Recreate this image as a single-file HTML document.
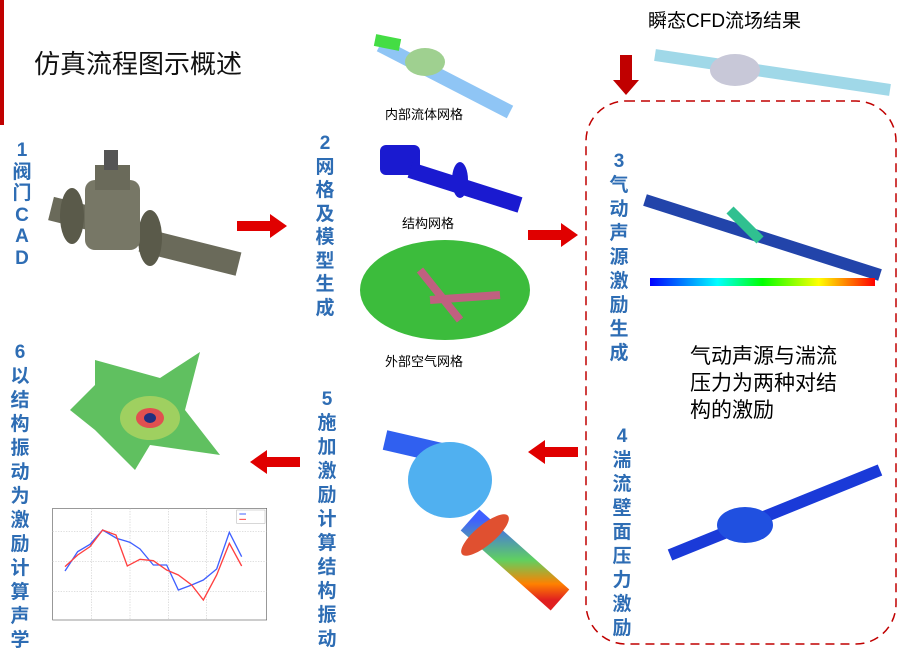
<!DOCTYPE html>
<html><head><meta charset="utf-8"><style>
body{margin:0;width:899px;height:654px;background:#fff;position:relative;overflow:hidden;font-family:"Liberation Sans","Noto Sans CJK SC",sans-serif}
.v{position:absolute;color:#2E6DB4;font-weight:bold;font-size:19px;text-align:center;width:24px}
.v span{display:block}
.t{position:absolute;white-space:nowrap}
svg{position:absolute}
</style></head><body>
<div style="position:absolute;left:0;top:0;width:4px;height:125px;background:#c00000"></div>
<div class="t" style="left:34px;top:44px;font-size:26px;color:#111">仿真流程图示概述</div>
<div class="t" style="left:648px;top:6px;font-size:19px">瞬态CFD流场结果</div>
<div class="t" style="left:385px;top:104px;font-size:13px">内部流体网格</div>
<div class="t" style="left:402px;top:213px;font-size:13px">结构网格</div>
<div class="t" style="left:385px;top:351px;font-size:13px">外部空气网格</div>
<div class="t" style="left:690px;top:343px;font-size:21px;line-height:27px">气动声源与湍流<br>压力为两种对结<br>构的激励</div>

<div class="v" style="left:10px;top:140px;line-height:21.5px"><span>1</span><span>阀</span><span>门</span><span>C</span><span>A</span><span>D</span></div>
<div class="v" style="left:313px;top:132px;line-height:23.5px"><span>2</span><span>网</span><span>格</span><span>及</span><span>模</span><span>型</span><span>生</span><span>成</span></div>
<div class="v" style="left:607px;top:150px;line-height:24px"><span>3</span><span>气</span><span>动</span><span>声</span><span>源</span><span>激</span><span>励</span><span>生</span><span>成</span></div>
<div class="v" style="left:610px;top:425px;line-height:24px"><span>4</span><span>湍</span><span>流</span><span>壁</span><span>面</span><span>压</span><span>力</span><span>激</span><span>励</span></div>
<div class="v" style="left:315px;top:388px;line-height:24px"><span>5</span><span>施</span><span>加</span><span>激</span><span>励</span><span>计</span><span>算</span><span>结</span><span>构</span><span>振</span><span>动</span></div>
<div class="v" style="left:8px;top:341px;line-height:24px"><span>6</span><span>以</span><span>结</span><span>构</span><span>振</span><span>动</span><span>为</span><span>激</span><span>励</span><span>计</span><span>算</span><span>声</span><span>学</span></div>

<svg width="899" height="654" style="left:0;top:0">
<rect x="586" y="101" width="310" height="543" rx="40" fill="none" stroke="#c00000" stroke-width="1.5" stroke-dasharray="9,6"/>
<g fill="#e00000">
<polygon points="237,221 270,221 270,214 287,226 270,238 270,231 237,231"/>
<polygon points="528,230 561,230 561,223 578,235 561,247 561,240 528,240"/>
<polygon points="578,447 545,447 545,440 528,452 545,464 545,457 578,457"/>
<polygon points="300,457 267,457 267,450 250,462 267,474 267,467 300,467"/>
<polygon points="620,55 632,55 632,80 639,80 626,95 613,80 620,80" fill="#c00000"/>
</g>
<!-- valve CAD -->
<g>
<rect x="140" y="240" width="100" height="24" fill="#6a6a5a" transform="rotate(14 190 252)"/>
<rect x="50" y="205" width="70" height="24" fill="#6a6a5a" transform="rotate(14 85 217)"/>
<ellipse cx="72" cy="216" rx="12" ry="28" fill="#5a5a4a"/>
<ellipse cx="150" cy="238" rx="12" ry="28" fill="#5a5a4a"/>
<rect x="85" y="180" width="55" height="70" rx="10" fill="#777766"/>
<rect x="95" y="165" width="35" height="25" fill="#6a6a5a"/>
<rect x="104" y="150" width="14" height="20" fill="#555"/>
</g>
<!-- internal fluid mesh -->
<g>
<line x1="380" y1="45" x2="510" y2="112" stroke="#8fc5f5" stroke-width="14"/>
<ellipse cx="425" cy="62" rx="20" ry="14" fill="#9fd090"/>
<line x1="375" y1="40" x2="400" y2="45" stroke="#44dd44" stroke-width="12"/>
</g>
<!-- structural mesh -->
<g fill="#1a1ad0">
<rect x="380" y="145" width="40" height="30" rx="6"/>
<line x1="410" y1="170" x2="520" y2="205" stroke="#1a1ad0" stroke-width="16"/>
<ellipse cx="460" cy="180" rx="8" ry="18"/>
</g>
<!-- external air mesh -->
<ellipse cx="445" cy="290" rx="85" ry="50" fill="#3cbc3c"/>
<line x1="420" y1="270" x2="460" y2="320" stroke="#c06080" stroke-width="8"/>
<line x1="430" y1="300" x2="500" y2="295" stroke="#c06080" stroke-width="8"/>
<!-- CFD -->
<line x1="655" y1="55" x2="890" y2="90" stroke="#a0d8e8" stroke-width="12"/>
<ellipse cx="735" cy="70" rx="25" ry="16" fill="#c8c8d8"/>
<!-- aero source -->
<line x1="645" y1="200" x2="880" y2="275" stroke="#2244aa" stroke-width="12"/>
<line x1="730" y1="210" x2="760" y2="240" stroke="#30c090" stroke-width="10"/>
<rect x="650" y="278" width="225" height="8" fill="url(#g)"/>
<defs><linearGradient id="g"><stop offset="0" stop-color="#00f"/><stop offset=".3" stop-color="#0ff"/><stop offset=".5" stop-color="#0f0"/><stop offset=".75" stop-color="#ff0"/><stop offset="1" stop-color="#f00"/></linearGradient>
<linearGradient id="g2" x1="0" y1="0" x2="0" y2="1"><stop offset="0" stop-color="#4060ff"/><stop offset=".5" stop-color="#60d060"/><stop offset=".8" stop-color="#ff8000"/><stop offset="1" stop-color="#e02020"/></linearGradient></defs>
<!-- wall pressure -->
<line x1="670" y1="555" x2="880" y2="470" stroke="#1a3ad8" stroke-width="12"/>
<ellipse cx="745" cy="525" rx="28" ry="18" fill="#2050e0"/>
<!-- structural vibration -->
<line x1="385" y1="440" x2="450" y2="455" stroke="#3060f0" stroke-width="20"/>
<ellipse cx="450" cy="480" rx="42" ry="38" fill="#50b0f0"/>
<line x1="470" y1="520" x2="560" y2="600" stroke="url(#g2)" stroke-width="28"/>
<ellipse cx="485" cy="535" rx="30" ry="10" fill="#e05030" transform="rotate(-40 485 535)"/>
<!-- acoustic -->
<polygon points="95,360 160,378 200,352 185,410 220,455 150,445 135,470 95,430 70,410 95,385" fill="#60c060"/>
<ellipse cx="150" cy="418" rx="30" ry="22" fill="#9fd060"/>
<ellipse cx="150" cy="418" rx="14" ry="10" fill="#e05050"/>
<ellipse cx="150" cy="418" rx="6" ry="5" fill="#203080"/>
</svg>

<svg style="left:40px;top:500px" width="230" height="135" viewBox="0 0 690 405">
<rect x="38" y="25" width="642" height="335" fill="#fff" stroke="#666" stroke-width="2"/>
<g stroke="#ccc" stroke-dasharray="4,4" stroke-width="2">
<line x1="38" y1="95" x2="680" y2="95"/><line x1="38" y1="185" x2="680" y2="185"/><line x1="38" y1="275" x2="680" y2="275"/>
<line x1="155" y1="25" x2="155" y2="360"/><line x1="270" y1="25" x2="270" y2="360"/><line x1="385" y1="25" x2="385" y2="360"/><line x1="500" y1="25" x2="500" y2="360"/>
</g>
<polyline fill="none" stroke="#4060ff" stroke-width="4" points="75,213 113,155 150,133 188,90 230,115 270,127 300,147 340,195 380,195 415,270 455,255 490,240 530,207 568,97 605,170"/>
<polyline fill="none" stroke="#ff4040" stroke-width="4" points="75,200 113,165 150,140 188,90 228,105 262,198 300,178 340,182 380,210 415,225 455,255 490,300 530,225 568,130 605,198"/>
<rect x="590" y="30" width="85" height="40" fill="#fff" stroke="#888"/>
<line x1="598" y1="42" x2="618" y2="42" stroke="#4060ff" stroke-width="3"/>
<line x1="598" y1="58" x2="618" y2="58" stroke="#ff4040" stroke-width="3"/>
</svg>
</body></html>
